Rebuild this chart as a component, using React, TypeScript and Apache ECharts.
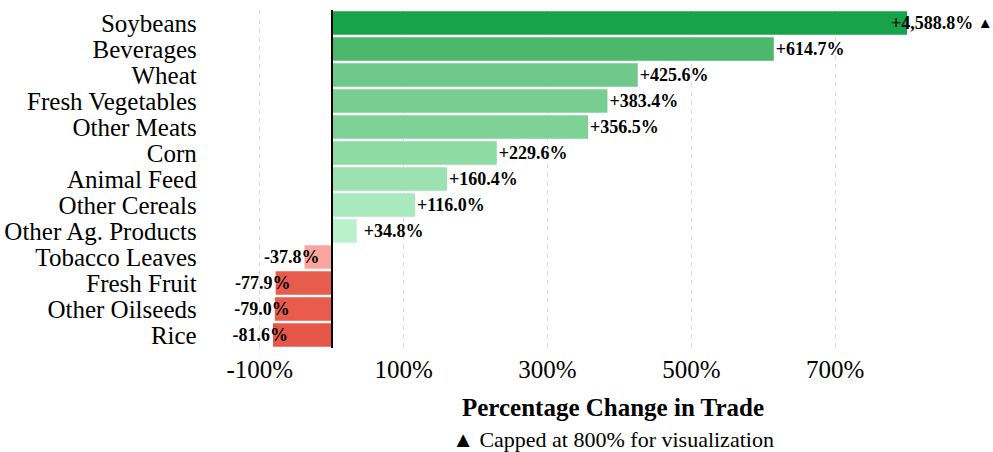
import React, { useEffect, useRef } from "react";
import * as echarts from "echarts";

const categories = [
  "Soybeans",
  "Beverages",
  "Wheat",
  "Fresh Vegetables",
  "Other Meats",
  "Corn",
  "Animal Feed",
  "Other Cereals",
  "Other Ag. Products",
  "Tobacco Leaves",
  "Fresh Fruit",
  "Other Oilseeds",
  "Rice",
];

const changes = [4588.8, 614.7, 425.6, 383.4, 356.5, 229.6, 160.4, 116.0, 34.8, -37.8, -77.9, -79.0, -81.6];

const barColors = [
  "#17a34a",
  "#4db86b",
  "#6fc98b",
  "#78ce91",
  "#7ed296",
  "#8edba4",
  "#9ce2b1",
  "#a9e9bd",
  "#b8f1cb",
  "#f9a59d",
  "#e85c4e",
  "#e85b4d",
  "#e6574a",
];

const CAP = 800;
const xTicks = [-100, 100, 300, 500, 700];

const FONT = "'Liberation Serif', 'Times New Roman', Times, serif";

function fmt(v: number): string {
  const sign = v > 0 ? "+" : "-";
  const abs = Math.abs(v).toLocaleString("en-US", { minimumFractionDigits: 1, maximumFractionDigits: 1 });
  return sign + abs + "%" + (v > CAP ? " {tri|▲}" : "");
}

export default function App() {
  const ref = useRef<HTMLDivElement>(null);

  useEffect(() => {
    if (!ref.current) return;
    const chart = echarts.init(ref.current, undefined, { renderer: "svg" });

    const data = changes.map((v, i) => {
      let label: any;
      if (v > CAP) {
        label = { position: "right", distance: 0, offset: [-16, 0] };
      } else if (v >= 0) {
        label = { position: "right", distance: v < 50 ? 7 : 2 };
      } else {
        label = { position: "left", distance: 0, offset: [15, 0] };
      }
      return {
        value: Math.min(v, CAP),
        raw: v,
        itemStyle: { color: barColors[i] },
        label,
      };
    });

    chart.setOption({
      animation: false,
      grid: { left: 259, right: 14, top: 10, bottom: 104, containLabel: false },
      xAxis: {
        type: "value",
        min: -100,
        max: 900,
        interval: 200,
        axisLine: { show: false },
        axisTick: { show: false },
        axisLabel: {
          fontFamily: FONT,
          fontSize: 25,
          color: "#000",
          margin: 9,
          showMaxLabel: false,
          formatter: (val: number) => (xTicks.includes(val) ? `${val}%` : ""),
        },
        splitLine: {
          show: true,
          showMaxLine: false,
          lineStyle: { color: "#dddddd", type: [5, 4], width: 1 },
        },
      },
      yAxis: {
        type: "category",
        inverse: true,
        data: categories,
        axisLine: { show: false },
        axisTick: { show: false },
        splitLine: { show: false },
        axisLabel: {
          interval: 0,
          fontFamily: FONT,
          fontSize: 25,
          color: "#000",
          margin: 63,
        },
      },
      series: [
        {
          type: "bar",
          data,
          barCategoryGap: "10%",
          itemStyle: { borderWidth: 0 },
          label: {
            show: true,
            fontFamily: FONT,
            fontWeight: "bold",
            fontSize: 18,
            color: "#000",
            formatter: (p: any) => fmt(p.data.raw),
            rich: {
              tri: { fontSize: 15, fontFamily: FONT, color: "#000" },
            },
          },
          markLine: {
            silent: true,
            symbol: "none",
            label: { show: false },
            lineStyle: { color: "#000", type: "solid", width: 2 },
            data: [{ xAxis: 0 }],
          },
        },
      ],
      graphic: [
        {
          type: "text",
          x: 613,
          y: 407,
          style: {
            text: "Percentage Change in Trade",
            fontFamily: FONT,
            fontWeight: "bold",
            fontSize: 25,
            fill: "#000",
            textAlign: "center",
            textVerticalAlign: "middle",
          },
        },
        {
          type: "text",
          x: 613,
          y: 439,
          style: {
            text: "▲ Capped at 800% for visualization",
            fontFamily: FONT,
            fontSize: 22,
            fill: "#000",
            textAlign: "center",
            textVerticalAlign: "middle",
          },
        },
      ],
    });

    return () => chart.dispose();
  }, []);

  return (
    <div
      ref={ref}
      style={{ position: "fixed", left: 0, top: 0, width: 993, height: 452, background: "#fff" }}
    />
  );
}
